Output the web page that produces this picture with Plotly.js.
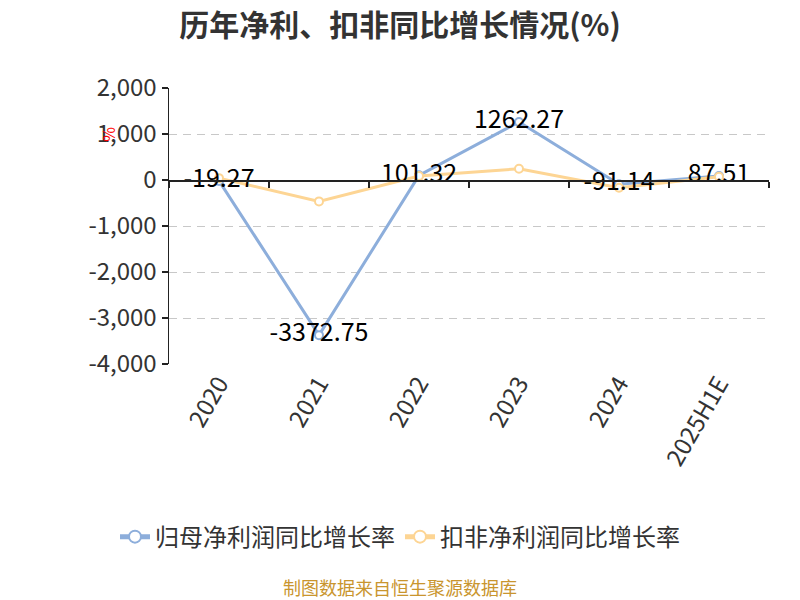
<!DOCTYPE html>
<html><head><meta charset="utf-8">
<script src="https://cdn.plot.ly/plotly-3.0.1.min.js"></script>
<style>body{margin:0;background:#fff}</style>
</head><body><div id="chart" style="width:800px;height:600px"></div>
<script>
const categories = ['2020', '2021', '2022', '2023', '2024', '2025H1E'];
const netProfitGrowth = [-19.27, -3372.75, 101.32, 1262.27, -91.14, 87.51];
const deductedProfitGrowth = [40, -465, 85, 245, -170, 70];
const yTickVals = [2000, 1000, 0, -1000, -2000, -3000, -4000];
const yTickText = ['2,000', '1,000', '0', '-1,000', '-2,000', '-3,000', '-4,000'];
const seriesNames = ['归母净利润同比增长率', '扣非净利润同比增长率'];
const titleText = '历年净利、扣非同比增长情况(%)';
const sourceText = '制图数据来自恒生聚源数据库';

const FONT = '"Noto Sans CJK SC", "Noto Sans", sans-serif';
const BLUE = '#8DAEDB';
const ORANGE = '#FDD594';

const traces = [
  {
    type: 'scatter', mode: 'lines+markers', name: seriesNames[0],
    x: categories, y: netProfitGrowth, xaxis: 'x', yaxis: 'y',
    line: {color: BLUE, width: 3},
    marker: {symbol: 'circle', size: 8, color: '#fff', line: {color: BLUE, width: 2}},
    hoverinfo: 'skip'
  },
  {
    type: 'scatter', mode: 'lines+markers', name: seriesNames[1],
    x: categories, y: deductedProfitGrowth, xaxis: 'x2', yaxis: 'y',
    line: {color: ORANGE, width: 3},
    marker: {symbol: 'circle', size: 8, color: '#fff', line: {color: ORANGE, width: 2}},
    hoverinfo: 'skip'
  },
  {
    type: 'scatter', mode: 'text', showlegend: false,
    x: categories, y: netProfitGrowth, xaxis: 'x2', yaxis: 'y',
    text: netProfitGrowth.map(v => v.toFixed(2)),
    textposition: 'middle center',
    textfont: {family: FONT, size: 25, color: '#000'},
    hoverinfo: 'skip'
  }
];

const layout = {
  width: 800, height: 600,
  margin: {l: 169, r: 31, t: 88, b: 236},
  paper_bgcolor: '#fff', plot_bgcolor: '#fff',
  font: {family: FONT, color: '#333'},
  title: {
    text: titleText, xref: 'container', x: 0.5, xanchor: 'center',
    yref: 'container', y: 0.958, yanchor: 'middle',
    font: {family: FONT, size: 30, weight: 'bold', color: '#333'}
  },
  xaxis: {
    type: 'category', categoryorder: 'array', categoryarray: categories,
    range: [-0.5, 5.5], showline: false, ticks: '', showgrid: false, zeroline: false,
    tickangle: -60, tickfont: {family: FONT, size: 24, color: '#333'}
  },
  xaxis2: {
    type: 'category', categoryorder: 'array', categoryarray: categories,
    overlaying: 'x', matches: 'x', anchor: 'free', position: 4000 / 6000,
    showline: true, linecolor: '#222', linewidth: 1.5,
    ticks: 'outside', tickson: 'boundaries', ticklen: 6, tickcolor: '#222', tickwidth: 1.5,
    showticklabels: false, showgrid: false, zeroline: false
  },
  yaxis: {
    range: [-4000, 2000], tickvals: yTickVals, ticktext: yTickText,
    showline: true, linecolor: '#222', linewidth: 1.5,
    ticks: 'outside', ticklen: 6, tickcolor: '#222', tickwidth: 1.5,
    showgrid: true, gridcolor: '#c8c8c8', gridwidth: 1, griddash: '8px,6px',
    zeroline: false, tickfont: {family: FONT, size: 24, color: '#333'}
  },
  legend: {
    orientation: 'h', x: 0.385, xanchor: 'center', y: -0.627, yanchor: 'middle',
    font: {family: FONT, size: 24, color: '#333'}, itemsizing: 'constant'
  },
  annotations: [
    {
      text: '%', xref: 'paper', yref: 'paper', x: -0.125, y: 0.865,
      showarrow: false, textangle: -90, font: {family: FONT, size: 16, color: '#ff0000'}
    },
    {
      text: sourceText, xref: 'paper', yref: 'paper', x: 0.385, y: -0.808,
      xanchor: 'center', yanchor: 'middle', showarrow: false,
      font: {family: FONT, size: 18, color: '#C9952E'}
    }
  ]
};

Plotly.newPlot('chart', traces, layout, {displayModeBar: false, staticPlot: true});
</script>
</body></html>
